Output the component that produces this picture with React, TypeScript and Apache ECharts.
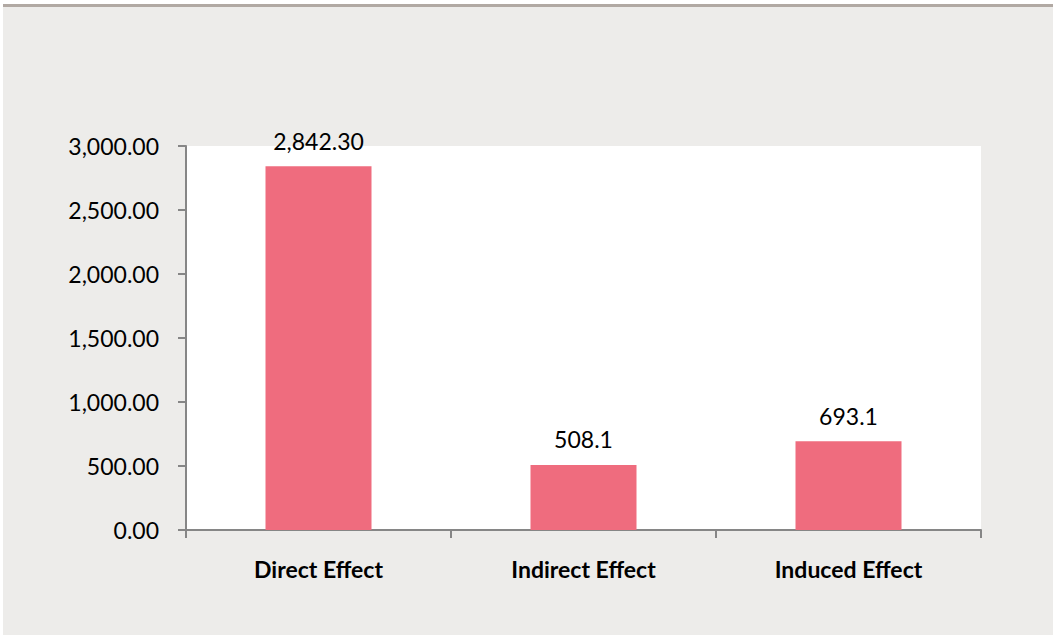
import React, { useEffect, useRef } from "react";
import * as echarts from "echarts";

const categories = ["Direct Effect", "Indirect Effect", "Induced Effect"];
const values = [2842.3, 508.1, 693.1];
const valueLabels = ["2,842.30", "508.1", "693.1"];
const yTicks = { min: 0, max: 3000, interval: 500 };

const FONT = "Lato, 'Noto Sans', sans-serif";

export default function App() {
  const ref = useRef<HTMLDivElement>(null);
  useEffect(() => {
    if (!ref.current) return;
    const chart = echarts.init(ref.current, null, { renderer: "svg" });
    chart.setOption({
      animation: false,
      backgroundColor: "#ffffff",
      graphic: [
        {
          type: "rect",
          silent: true,
          z: -10,
          shape: { x: 3, y: 4, width: 1050, height: 631 },
          style: { fill: "#EDECEA" },
        },
        {
          type: "rect",
          silent: true,
          z: -9,
          shape: { x: 3, y: 4, width: 1050, height: 3 },
          style: { fill: "#B1A9A3" },
        },
      ],
      grid: {
        left: 186,
        right: 76,
        top: 146,
        bottom: 105,
        show: true,
        backgroundColor: "#ffffff",
        borderWidth: 0,
      },
      xAxis: {
        type: "category",
        data: categories,
        axisLine: { show: true, lineStyle: { color: "#868686", width: 2 } },
        axisTick: { show: true, length: 8, alignWithLabel: false, lineStyle: { color: "#868686", width: 2 } },
        axisLabel: {
          color: "#000",
          fontSize: 23,
          fontWeight: "bold",
          fontFamily: FONT,
          margin: 27,
        },
        splitLine: { show: false },
      },
      yAxis: {
        type: "value",
        min: yTicks.min,
        max: yTicks.max,
        interval: yTicks.interval,
        axisLine: { show: true, lineStyle: { color: "#868686", width: 2 } },
        axisTick: { show: true, length: 8, lineStyle: { color: "#868686", width: 2 } },
        axisLabel: {
          color: "#000",
          fontSize: 23,
          fontFamily: FONT,
          margin: 27,
          formatter: (v: number) =>
            v.toLocaleString("en-US", { minimumFractionDigits: 2, maximumFractionDigits: 2 }),
        },
        splitLine: { show: false },
      },
      series: [
        {
          type: "bar",
          data: values,
          barWidth: "40%",
          itemStyle: { color: "#EF6C7E" },
          label: {
            show: true,
            position: "top",
            distance: 14,
            color: "#000",
            fontSize: 23,
            fontFamily: FONT,
            formatter: (p: any) => valueLabels[p.dataIndex],
          },
        },
      ],
    });
    return () => chart.dispose();
  }, []);
  return (
    <div
      ref={ref}
      style={{ position: "fixed", left: 0, top: 0, width: 1057, height: 635 }}
    />
  );
}
